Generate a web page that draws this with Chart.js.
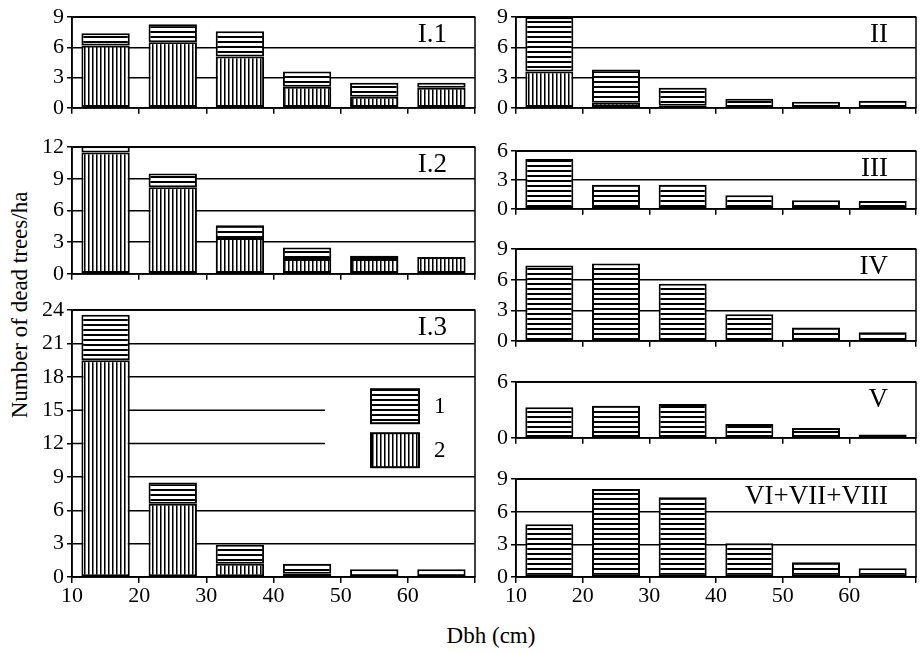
<!DOCTYPE html>
<html>
<head>
<meta charset="utf-8">
<script src="https://cdn.jsdelivr.net/npm/chart.js@4/dist/chart.umd.min.js"></script>
<style>
  body { margin: 0; background: #fff; width: 923px; height: 654px; position: relative; overflow: hidden; font-family: "Liberation Serif", serif; color: #000; }
  .panel { position: absolute; }
  .ytitle { position: absolute; left: 20px; top: 305px; transform: translate(-50%, -50%) rotate(-90deg); font-size: 23px; white-space: nowrap; }
  .xtitle { position: absolute; left: 491px; top: 636px; transform: translate(-50%, -50%); font-size: 23px; white-space: nowrap; }
</style>
</head>
<body>
<div class="ytitle">Number of dead trees/ha</div>
<div class="xtitle">Dbh (cm)</div>
<script>
// diameter class centres (cm) and axis ticks
const dbh = [15, 25, 35, 45, 55, 65];
const dbhTicks = [10, 20, 30, 40, 50, 60];

// 1 = horizontal hatch, 2 = vertical hatch
const i1Type1 = [1.2, 1.8, 2.5, 1.5, 1.4, 0.5];
const i1Type2 = [6.2, 6.5, 5.1, 2.1, 1.1, 2.0];
const i2Type1 = [0.6, 1.3, 1.2, 1.1, 0.3, 0];
const i2Type2 = [11.5, 8.2, 3.4, 1.4, 1.4, 1.6];
const i3Type1 = [4.1, 1.9, 1.7, 0.9, 0.7, 0.7];
const i3Type2 = [19.5, 6.6, 1.2, 0.3, 0, 0];
const iiType1 = [5.4, 3.3, 1.8, 0.9, 0.6, 0.7];
const iiType2 = [3.6, 0.5, 0.2, 0, 0, 0];
const iiiType1 = [5.2, 2.5, 2.5, 1.4, 0.9, 0.8];
const ivType1 = [7.4, 7.6, 5.6, 2.6, 1.3, 0.85];
const vType1 = [3.3, 3.45, 3.65, 1.5, 1.05, 0.35];
const viType1 = [4.85, 8.1, 7.35, 3.1, 1.35, 0.8];

Chart.defaults.font.family = '"Liberation Serif", serif';
Chart.defaults.color = '#000';

function hatch(vertical) {
  const c = document.createElement('canvas');
  const n = vertical ? 4 : 5;
  c.width = n; c.height = n;
  const g = c.getContext('2d');
  g.fillStyle = '#fff';
  g.fillRect(0, 0, n, n);
  g.fillStyle = '#000';
  if (vertical) {
    g.fillRect(0, 0, 1, n);
    g.fillStyle = '#777';
    g.fillRect(1, 0, 1, n);
  } else {
    g.fillRect(0, 0, n, 2);
  }
  return g.createPattern(c, 'repeat');
}
const hPat = hatch(false);
const vPat = hatch(true);

const panelDecor = {
  id: 'panelDecor',
  beforeDatasetsDraw(chart, args, o) {
    if (!o.cut) return;
    const { ctx, chartArea: a, scales } = chart;
    ctx.save();
    ctx.strokeStyle = '#000';
    ctx.lineWidth = 1.5;
    o.cut.forEach(v => {
      const y = scales.y.getPixelForValue(v);
      ctx.beginPath();
      ctx.moveTo(a.left, y);
      ctx.lineTo(a.left + 253, y);
      ctx.stroke();
    });
    ctx.restore();
  },
  afterDraw(chart, args, o) {
    const { ctx, chartArea: a } = chart;
    ctx.save();
    ctx.strokeStyle = '#000';
    ctx.lineWidth = 1.5;
    ctx.strokeRect(a.left, a.top, a.right - a.left, a.bottom - a.top);
    ctx.fillStyle = '#000';
    ctx.font = '27px "Liberation Serif"';
    ctx.textAlign = 'right';
    ctx.textBaseline = 'middle';
    ctx.fillText(o.label, a.right - 28, a.top + 18);
    if (o.legend) {
      [[hPat, '1', 79], [vPat, '2', 123]].forEach(([p, t, dy]) => {
        ctx.fillStyle = p;
        ctx.fillRect(a.left + 299, a.top + dy, 48, 34);
        ctx.lineWidth = 2;
        ctx.strokeRect(a.left + 299, a.top + dy, 48, 34);
        ctx.fillStyle = '#000';
        ctx.font = '23px "Liberation Serif"';
        ctx.textAlign = 'left';
        ctx.fillText(t, a.left + 362, a.top + dy + 18);
      });
    }
    ctx.restore();
  }
};

function series(vals, pat) {
  return {
    data: dbh.map((x, i) => ({ x: x, y: vals[i] })),
    backgroundColor: pat,
    borderColor: '#000',
    borderWidth: 2,
    borderSkipped: false
  };
}

const AXW = 60, PADT = 14, PADR = 6;

function panel(box, yMax, sets, label, showX, extra) {
  const xh = showX ? 36 : 8;
  const div = document.createElement('div');
  div.className = 'panel';
  div.style.left = (box[0] - AXW) + 'px';
  div.style.top = (box[1] - PADT) + 'px';
  div.style.width = (box[2] - box[0] + AXW + PADR) + 'px';
  div.style.height = (box[3] - box[1] + PADT + xh) + 'px';
  const cv = document.createElement('canvas');
  div.appendChild(cv);
  document.body.appendChild(div);
  const cut = extra && extra.cut;

  new Chart(cv, {
    type: 'bar',
    data: { datasets: sets },
    plugins: [panelDecor],
    options: {
      responsive: true,
      maintainAspectRatio: false,
      animation: false,
      layout: { padding: { top: PADT, right: PADR, left: 0, bottom: 0 } },
      plugins: {
        legend: { display: false },
        tooltip: { enabled: false },
        panelDecor: { label: label, cut: cut, legend: extra && extra.legend }
      },
      scales: {
        x: {
          type: 'linear',
          min: 10,
          max: 70,
          stacked: true,
          offset: false,
          afterFit: s => { s.height = xh; },
          afterBuildTicks: s => { s.ticks = dbhTicks.concat([70]).map(v => ({ value: v })); },
          ticks: {
            autoSkip: false,
            maxRotation: 0,
            padding: 0,
            font: { size: 22 },
            callback: v => (showX && dbhTicks.includes(v)) ? String(v) : ''
          },
          grid: { drawOnChartArea: false, drawTicks: true, tickLength: 6, color: '#000', lineWidth: 1.5, offset: false },
          border: { color: '#000', width: 1.5 }
        },
        y: {
          stacked: true,
          min: 0,
          max: yMax,
          afterFit: s => { s.width = AXW; },
          ticks: { stepSize: 3, padding: 3, font: { size: 22 } },
          grid: {
            color: c => (cut && c.tick && cut.includes(c.tick.value)) ? 'rgba(0,0,0,0)' : '#000',
            tickColor: '#000',
            lineWidth: 1.5,
            tickLength: 5
          },
          border: { color: '#000', width: 1.5 }
        }
      }
    }
  });
}

// left column
panel([72, 15, 475, 116], 9, [series(i1Type2, vPat), series(i1Type1, hPat)], 'I.1', false);
panel([72, 145, 475, 282], 12, [series(i2Type2, vPat), series(i2Type1, hPat)], 'I.2', false);
panel([72, 308, 475, 577], 24, [series(i3Type2, vPat), series(i3Type1, hPat)], 'I.3', true, { cut: [12, 15], legend: true });

// right column
panel([516, 15, 916, 116], 9, [series(iiType2, vPat), series(iiType1, hPat)], 'II', false);
panel([516, 149, 916, 217], 6, [series(iiiType1, hPat)], 'III', false);
panel([516, 247, 916, 349], 9, [series(ivType1, hPat)], 'IV', false);
panel([516, 380, 916, 446], 6, [series(vType1, hPat)], 'V', false);
panel([516, 477, 916, 577], 9, [series(viType1, hPat)], 'VI+VII+VIII', true);
</script>
</body>
</html>
